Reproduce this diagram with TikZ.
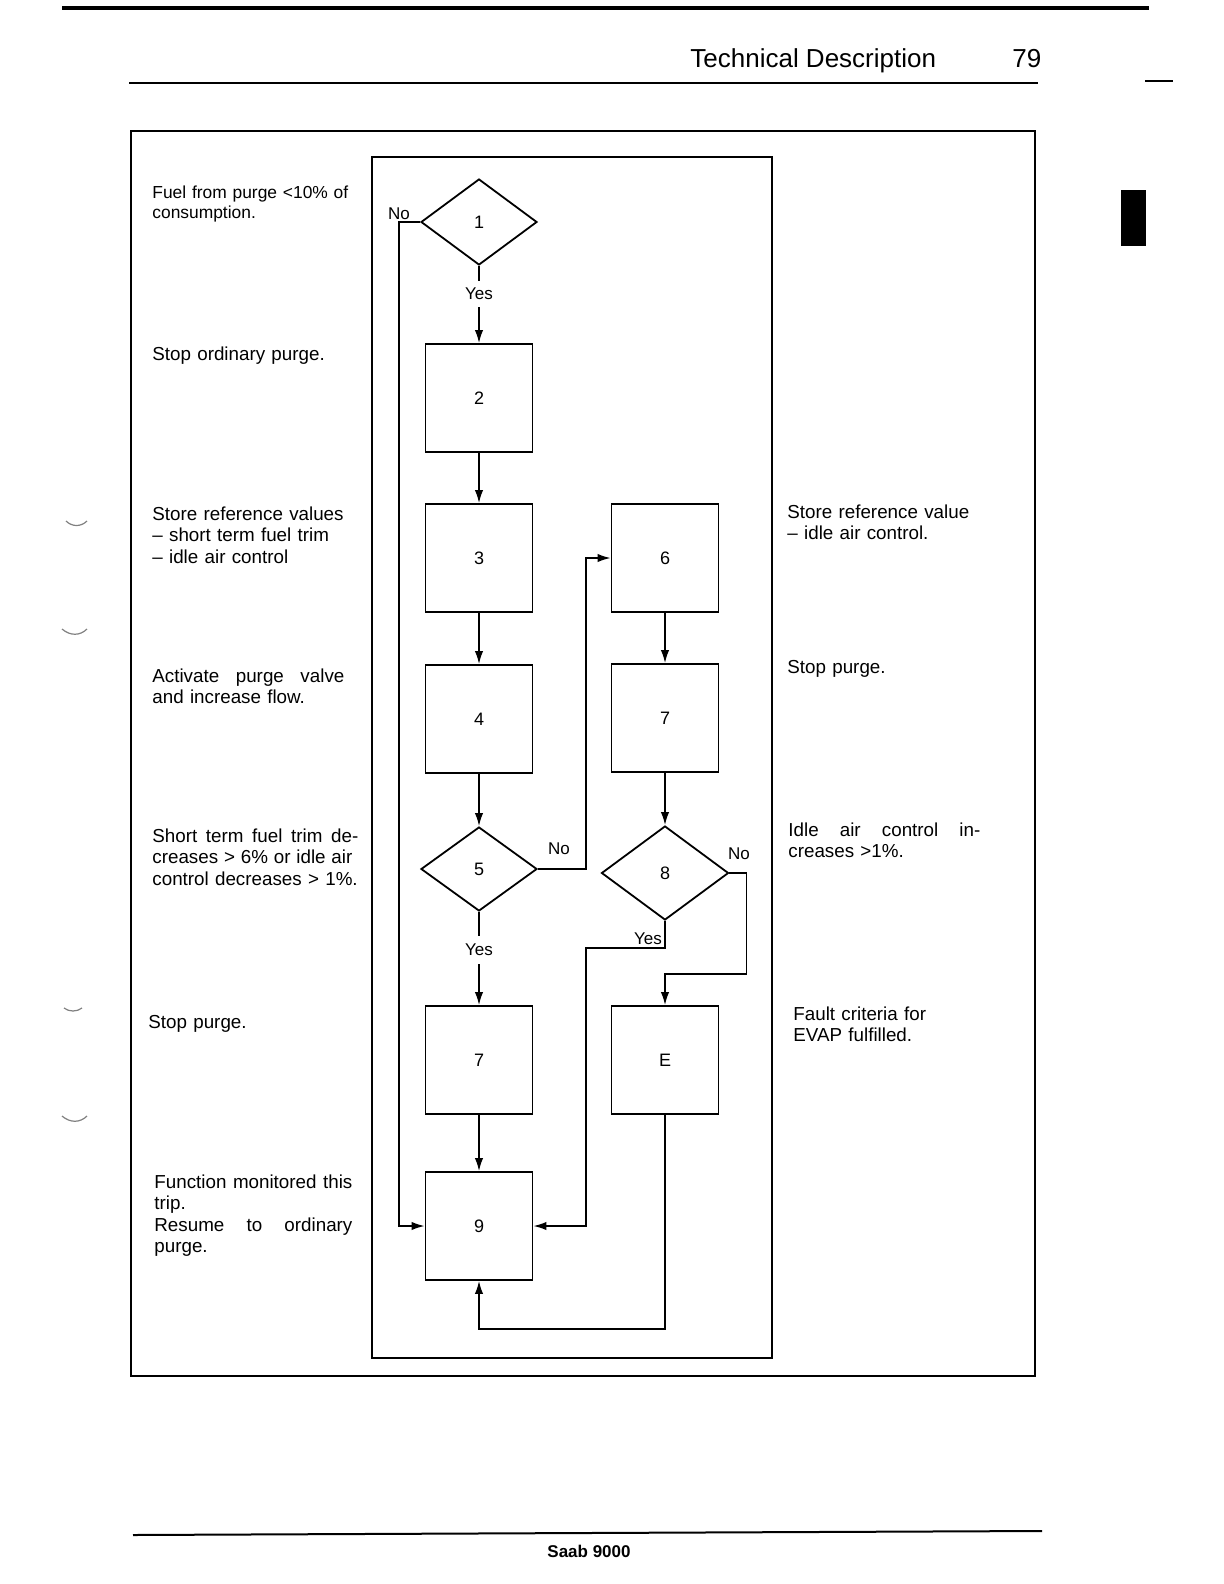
\documentclass[tikz,border=0pt]{standalone}
\usepackage{fontspec}
\setmainfont{Liberation Sans}
\usetikzlibrary{arrows.meta,shapes.geometric,positioning}

\newcommand{\spread}[2]{\leavevmode\hbox to #1{#2}}

\tikzset{
  box/.style={draw,line width=0.9pt,minimum width=53.5pt,minimum height=54pt,inner sep=0pt,font=\fontsize{9}{10}\selectfont},
  decide/.style={draw,diamond,line width=0.9pt,inner sep=0pt,font=\fontsize{9}{10}\selectfont},
  flow/.style={line width=0.8pt,-{Latex[length=6.5pt,width=4.2pt]}},
  lbl/.style={inner sep=0pt,font=\fontsize{8.5}{10}\selectfont},
  txt/.style={anchor=base west,inner sep=0pt,text width=130pt,align=left,font=\fontsize{9.4}{10.75}\selectfont},
  punch/.style={gray,line width=0.6pt},
}

\begin{document}
\begin{tikzpicture}[x=0.5pt,y=-0.5pt]
\useasboundingbox (0,0) rectangle (1224,1584);

% page rules and header
\draw[line width=1.8pt] (62,8) -- (1149,8);
\node[anchor=base west,inner sep=0pt,font=\fontsize{13}{15}\selectfont] (title) at (690,68) {Technical Description};
\node[anchor=base west,inner sep=0pt,font=\fontsize{13}{15}\selectfont] (page) at (1012,68) {79};
\draw[line width=0.9pt] (129,83) -- (1038,83);
\draw[line width=0.7pt] (1145,81) -- (1173,81);
\fill (1121,190) rectangle (1146,246);
\draw[punch] (66,521) .. controls (72,527) and (81,527) .. (87,521);
\draw[punch] (62,629) .. controls (70,636) and (80,636) .. (87,629);
\draw[punch] (64,1008) .. controls (69,1012) and (77,1012) .. (82,1008);
\draw[punch] (62,1116) .. controls (70,1123) and (80,1123) .. (87,1116);

% frames
\draw[line width=0.9pt] (131,131) rectangle (1035,1376);
\draw[line width=0.9pt] (372,157) rectangle (772,1358);

% flow chart
\node[decide,minimum width=58pt,minimum height=43pt] (d1) at (479,222) {1};
\node[box] (b2) at (479,398) {2};
\node[box] (b3) at (479,558) {3};
\node[box] (b4) at (479,719) {4};
\node[decide,minimum width=58pt,minimum height=42pt] (d5) at (479,869) {5};
\node[box] (b7b) at (479,1060) {7};
\node[box] (b9) at (479,1226) {9};
\node[box] (b6) at (665,558) {6};
\node[box] (b7a) at (665,718) {7};
\node[decide,minimum width=63.5pt,minimum height=47pt] (d8) at (665,873) {8};
\node[box] (bE) at (665,1060) {E};

\node[lbl] (no1) at (399,214) {No};
\node[lbl] (no5) at (559,849) {No};
\node[lbl] (no8) at (739,854) {No};
\node[lbl] (yes8) at (648,939) {Yes};

\draw[flow] (d1.south) -- node[lbl,pos=0.36,fill=white,inner sep=3.5pt]{Yes} (b2.north);
\draw[flow] (b2) -- (b3);
\draw[flow] (b3) -- (b4);
\draw[flow] (b4) -- (d5);
\draw[flow] (d5.south) -- node[lbl,pos=0.41,fill=white,inner sep=4pt]{Yes} (b7b.north);
\draw[flow] (b7b) -- (b9);
\draw[flow] (b6) -- (b7a);
\draw[flow] (b7a) -- (d8);
\draw[flow] (d1.west) -- ++(-21,0) |- (b9.west);
\draw[flow] (d5.east) -- ++(48,0) |- (b6.west);
\draw[flow] (d8.east) -- ++(17,0) -- ++(0,101) -| (bE.north);
\draw[flow] (d8.south) -- ++(0,27) -- ++(-79,0) |- (b9.east);
\draw[flow] (bE.south) -- ++(0,214) -| (b9.south);

% notes left
\node[txt,font=\fontsize{8.7}{10}\selectfont] (t1) at (152,198) {Fuel from purge <10\% of\\consumption.};
\node[txt] (t2) at (152,360) {Stop ordinary purge.};
\node[txt] (t3) at (152,520) {Store reference values\\– short term fuel trim\\– idle air control};
\node[txt] (t4) at (152,682) {\spread{96pt}{Activate\hfill purge\hfill valve}\\and increase flow.};
\node[txt] (t5) at (152,842) {\spread{103pt}{Short\hfill term\hfill fuel\hfill trim\hfill de-}\\\spread{100pt}{creases\hfill >\hfill 6\%\hfill or\hfill idle\hfill air}\\control decreases > 1\%.};
\node[txt] (t6) at (148,1028) {Stop purge.};
\node[txt] (t7) at (154,1188) {\spread{99pt}{Function\hfill monitored\hfill this}\\trip.\\\spread{99pt}{Resume\hfill to\hfill ordinary}\\purge.};

% notes right
\node[txt] (t8) at (787,518) {Store reference value\\– idle air control.};
\node[txt] (t9) at (787,673) {Stop purge.};
\node[txt] (t10) at (788,836) {\spread{96pt}{Idle\hfill air\hfill control\hfill in-}\\creases >1\%.};
\node[txt] (t11) at (793,1020) {Fault criteria for\\EVAP fulfilled.};

% footer
\draw[line width=1pt] (133,1535) -- (1042,1531);
\node[anchor=base,inner sep=0pt,font=\bfseries\fontsize{8.5}{10}\selectfont] (foot) at (589,1557) {Saab 9000};
\end{tikzpicture}
\end{document}
